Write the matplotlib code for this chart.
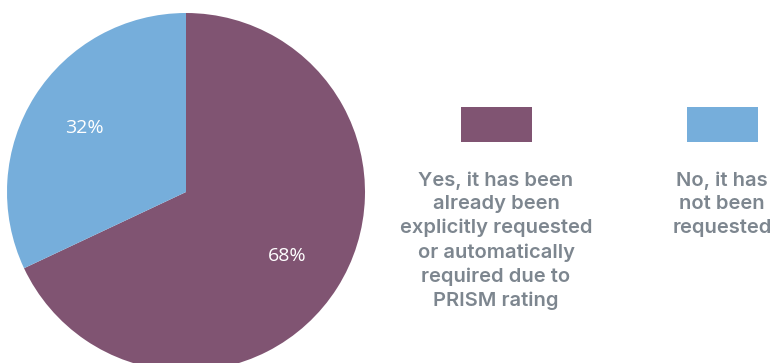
import matplotlib.pyplot as plt
from matplotlib.patches import Rectangle

labels = ["Yes, it has been\nalready been\nexplicitly requested\nor automatically\nrequired due to\nPRISM rating",
          "No, it has\nnot been\nrequested"]
shares = [68, 32]
colors = ["#805472", "#76aedb"]

W, H = 774, 363
fig = plt.figure(figsize=(W / 100, H / 100), dpi=100)
ax = fig.add_axes([0, 0, 1, 1])

wedges, texts, autotexts = ax.pie(
    shares, colors=colors, startangle=90, counterclock=False,
    center=(186, H - 192), radius=179, autopct="%d%%", pctdistance=0.67,
    textprops=dict(color="white", fontsize=14, family="Open Sans"),
    frame=True)
ax.set_xlim(0, W)
ax.set_ylim(0, H)
ax.set_aspect("equal")
ax.axis("off")

# legend blocks: colour swatch with a caption underneath
for cx, col, lab in zip([496, 722], colors, labels):
    ax.add_patch(Rectangle((cx - 35.5, H - 142), 71, 35, color=col, lw=0))
    ax.text(cx, H - 171, lab, ha="center", va="top", color="#7d868f",
            fontsize=14.5, family="Inter", fontweight="semibold", linespacing=1.40)

fig.savefig("out.png", dpi=100)
